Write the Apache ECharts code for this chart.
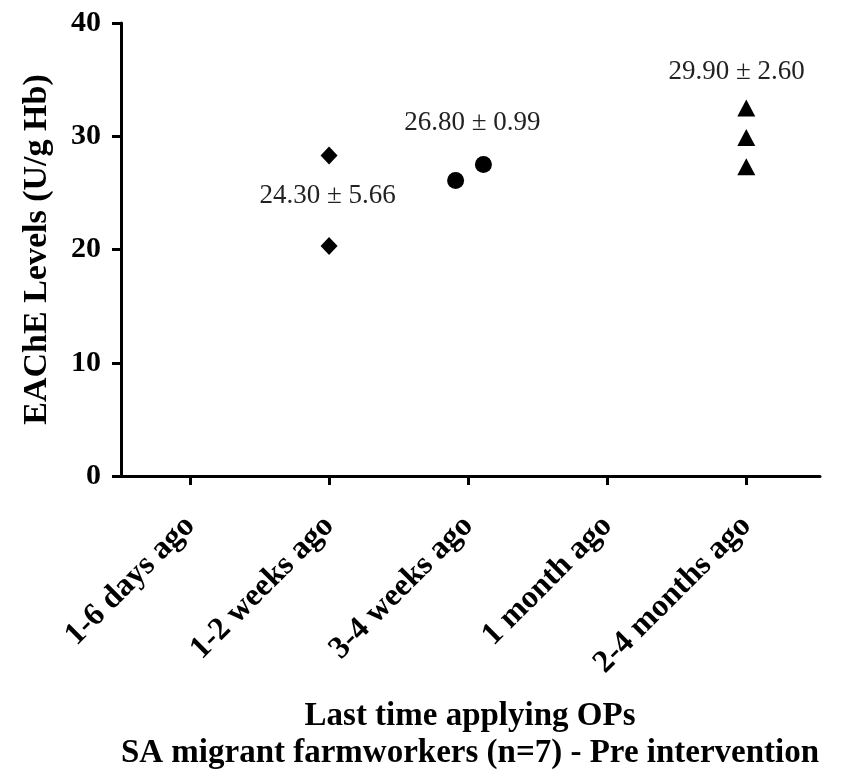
<!DOCTYPE html>
<html>
<head>
<meta charset="utf-8">
<script src="https://cdn.jsdelivr.net/npm/echarts@6/dist/echarts.min.js"></script>
<style>
  html, body { margin: 0; padding: 0; background: #ffffff; }
  #chart { width: 843px; height: 776px; }
</style>
</head>
<body>
<div id="chart"></div>
<script>
// Groups by time since last OP application
const categories = ['1-6 days ago', '1-2 weeks ago', '3-4 weeks ago', '1 month ago', '2-4 months ago'];

// Individual EAChE readings (U/g Hb) as [group index, value];
// small index offsets keep the two 3-4 week points from overlapping
const weeks12 = [[1, 28.3], [1, 20.3]];
const weeks34 = [[1.91, 26.1], [2.11, 27.5]];
const months24 = [[4, 32.5], [4, 29.9], [4, 27.3]];

// Group summaries: mean ± SD
const groupMeans = [24.30, 26.80, 29.90];
const groupSDs = [5.66, 0.99, 2.60];

const yTicks = [0, 10, 20, 30, 40];
const xTicks = [0, 1, 2, 3, 4];

const FONT = '"Liberation Serif", "Times New Roman", serif';

// Where each mean ± SD note sits, in axis units
const summaryAnchors = [[0.99, 24.7], [2.03, 31.2], [3.93, 35.7]];

const chart = echarts.init(document.getElementById('chart'), null, { renderer: 'canvas' });

const pointStyle = { color: '#000000', opacity: 1 };

chart.setOption({
  animation: false,
  backgroundColor: '#ffffff',
  grid: { left: 121, right: 23, top: 23, bottom: 300, containLabel: false },
  xAxis: {
    type: 'value',
    min: -0.496,
    max: 4.53,
    splitLine: { show: false },
    axisLine: { show: true, onZero: false, lineStyle: { color: '#000', width: 3 } },
    axisTick: { show: true, customValues: xTicks, length: 9, lineStyle: { color: '#000', width: 3 } },
    axisLabel: {
      show: true,
      customValues: xTicks,
      rotate: 45,
      margin: 45,
      formatter: v => categories[Math.round(v)],
      fontFamily: FONT,
      fontWeight: 'bold',
      fontSize: 32,
      color: '#000'
    }
  },
  yAxis: {
    type: 'value',
    min: 0,
    max: 40,
    interval: 10,
    name: 'EAChE Levels (U/g Hb)',
    nameLocation: 'middle',
    nameRotate: 90,
    nameGap: 67,
    nameTextStyle: { fontFamily: FONT, fontWeight: 'bold', fontSize: 34, color: '#000' },
    splitLine: { show: false },
    axisLine: { show: true, onZero: false, lineStyle: { color: '#000', width: 3 } },
    axisTick: { show: true, length: 9, lineStyle: { color: '#000', width: 3 } },
    axisLabel: {
      margin: 20,
      formatter: v => (yTicks.includes(v) ? String(v) : ''),
      fontFamily: FONT,
      fontWeight: 'bold',
      fontSize: 30,
      color: '#000'
    }
  },
  series: [
    { type: 'scatter', name: '1-2 weeks ago', data: weeks12, symbol: 'diamond', symbolSize: [17, 18], itemStyle: pointStyle },
    { type: 'scatter', name: '3-4 weeks ago', data: weeks34, symbol: 'circle', symbolSize: 17, itemStyle: pointStyle },
    { type: 'scatter', name: '2-4 months ago', data: months24, symbol: 'triangle', symbolSize: [18, 17], itemStyle: pointStyle },
    {
      type: 'scatter',
      name: 'summary',
      data: summaryAnchors,
      symbolSize: 0,
      silent: true,
      itemStyle: { opacity: 1 },
      label: {
        show: true,
        position: 'inside',
        formatter: p => groupMeans[p.dataIndex].toFixed(2) + ' \u00b1 ' + groupSDs[p.dataIndex].toFixed(2),
        fontFamily: FONT,
        fontSize: 27,
        color: '#222'
      }
    }
  ],
  graphic: [
    {
      type: 'text',
      x: 470, y: 716,
      style: {
        text: 'Last time applying OPs',
        font: 'bold 33px ' + FONT,
        fill: '#000',
        textAlign: 'center',
        textVerticalAlign: 'middle'
      }
    },
    {
      type: 'text',
      x: 470, y: 753,
      style: {
        text: 'SA migrant farmworkers (n=7) - Pre intervention',
        font: 'bold 33px ' + FONT,
        fill: '#000',
        textAlign: 'center',
        textVerticalAlign: 'middle'
      }
    }
  ]
});
</script>
</body>
</html>
